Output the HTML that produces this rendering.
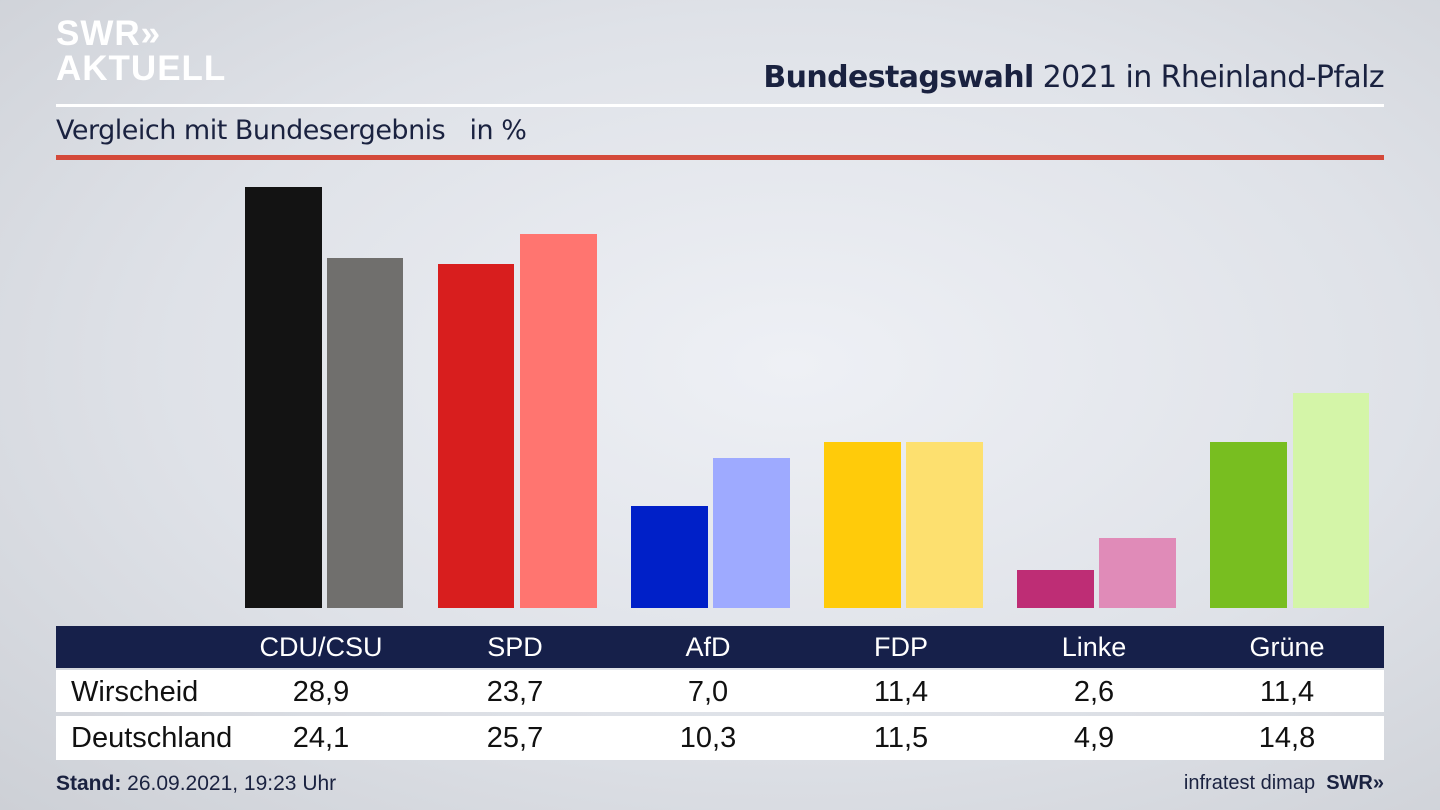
<!DOCTYPE html>
<html><head><meta charset="utf-8"><style>
*{margin:0;padding:0;box-sizing:border-box}
body{width:1440px;height:810px;position:relative;overflow:hidden;font-family:"Liberation Sans","DejaVu Sans",sans-serif;background:radial-gradient(ellipse at 55% 45%,#eef0f5 0%,#dfe2e8 55%,#cdd0d6 100%);color:#1a2240}
.a{position:absolute}
.bar{position:absolute}
.row{position:absolute;left:56px;width:1328px;background:#fff;font-size:29px;color:#111}
.row span,.hd span{position:absolute;width:160px;text-align:center;top:6px}
.hd{position:absolute;left:56px;top:626px;width:1328px;height:42px;background:#16204a;color:#fff;font-size:27px}
.lbl{position:absolute;left:15px;width:auto!important;text-align:left!important}
</style></head><body>
<div class="a" style="left:56px;top:16px;color:#fff;font-weight:bold;font-size:35px;line-height:35px;letter-spacing:1px">SWR&#187;<br>AKTUELL</div>
<div class="a" style="right:56px;top:60px;font-size:30px;color:#1a2240;font-family:'DejaVu Sans',sans-serif;letter-spacing:-0.6px"><b>Bundestagswahl</b> 2021 in Rheinland-Pfalz</div>
<div class="a" style="left:56px;top:104px;width:1328px;height:3px;background:#fff"></div>
<div class="a" style="left:56px;top:115px;font-size:27px;color:#1a2240;font-family:'DejaVu Sans',sans-serif;letter-spacing:-0.5px">Vergleich mit Bundesergebnis &nbsp;&nbsp;in %</div>
<div class="a" style="left:56px;top:155px;width:1328px;height:5px;background:#d4493a"></div>
<div class="bar" style="left:245px;top:187px;width:77px;height:421px;background:#131313"></div>
<div class="bar" style="left:327px;top:258px;width:76px;height:350px;background:#706f6d"></div>
<div class="bar" style="left:438px;top:264px;width:76px;height:344px;background:#d81e1e"></div>
<div class="bar" style="left:520px;top:234px;width:77px;height:374px;background:#ff7570"></div>
<div class="bar" style="left:631px;top:506px;width:77px;height:102px;background:#0020c8"></div>
<div class="bar" style="left:713px;top:458px;width:77px;height:150px;background:#9eaaff"></div>
<div class="bar" style="left:824px;top:442px;width:77px;height:166px;background:#ffcb0a"></div>
<div class="bar" style="left:906px;top:442px;width:77px;height:166px;background:#fde06f"></div>
<div class="bar" style="left:1017px;top:570px;width:77px;height:38px;background:#be2d75"></div>
<div class="bar" style="left:1099px;top:538px;width:77px;height:70px;background:#e08bb8"></div>
<div class="bar" style="left:1210px;top:442px;width:77px;height:166px;background:#78be20"></div>
<div class="bar" style="left:1293px;top:393px;width:76px;height:215px;background:#d4f5a8"></div>
<div class="hd"><span style="left:185px">CDU/CSU</span><span style="left:379px">SPD</span><span style="left:572px">AfD</span><span style="left:765px">FDP</span><span style="left:958px">Linke</span><span style="left:1151px">Grüne</span></div>
<div class="row" style="top:670px;height:42px"><span class="lbl">Wirscheid</span><span style="left:185px">28,9</span><span style="left:379px">23,7</span><span style="left:572px">7,0</span><span style="left:765px">11,4</span><span style="left:958px">2,6</span><span style="left:1151px">11,4</span></div>
<div class="row" style="top:716px;height:44px"><span class="lbl">Deutschland</span><span style="left:185px">24,1</span><span style="left:379px">25,7</span><span style="left:572px">10,3</span><span style="left:765px">11,5</span><span style="left:958px">4,9</span><span style="left:1151px">14,8</span></div>
<div class="a" style="left:56px;top:772px;font-size:21px;color:#1a2240"><b>Stand:</b> 26.09.2021, 19:23 Uhr</div>
<div class="a" style="right:56px;top:772px;font-size:20px;color:#1a2240">infratest dimap &nbsp;<b>SWR&#187;</b></div>
</body></html>
